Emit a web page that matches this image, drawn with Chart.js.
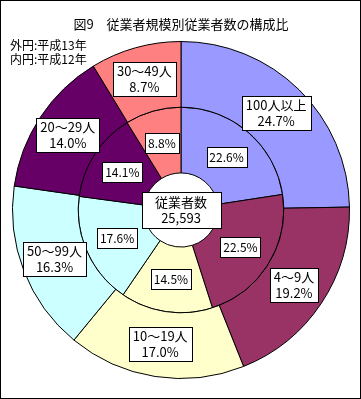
<!DOCTYPE html>
<html>
<head>
<meta charset="utf-8">
<script src="https://cdn.jsdelivr.net/npm/chart.js@4"></script>
<style>
  html, body { margin: 0; padding: 0; background: #fff; }
  canvas { display: block; }
</style>
</head>
<body>
<canvas id="sizeChart" width="361" height="399"></canvas>
<script>
// ========= DATA ========= //
const categories = ["100人以上", "4～9人", "10～19人", "50～99人", "20～29人", "30～49人"];
const outerValues = [24.7, 19.2, 17.0, 16.3, 14.0, 8.7]; // 外円: 平成13年
const innerValues = [22.6, 22.5, 14.5, 17.6, 14.1, 8.8]; // 内円: 平成12年
const sliceColors = ["#9999FF", "#993366", "#FFFFCC", "#CCFFFF", "#660066", "#FF8080"];
const titleText = "図9　従業者規模別従業者数の構成比";
const noteLines = ["外円:平成13年", "内円:平成12年"];
const centerLines = ["従業者数", "25,593"];

const jpFont = '"Noto Sans CJK JP", "Noto Sans", sans-serif';

// draws a white box with black frame and centred text lines
function drawBox(ctx, lines, x, y, opts) {
  ctx.font = opts.size + "px " + jpFont;
  let w = opts.width || Math.max(...lines.map(l => ctx.measureText(l).width)) + opts.padX * 2;
  let h = opts.height || lines.length * opts.lineH + opts.padY * 2;
  w = Math.round(w);
  h = Math.round(h);
  const left = Math.round(x - w / 2) + 0.5;
  const top = Math.round(y - h / 2) + 0.5;
  ctx.fillStyle = "#fff";
  ctx.fillRect(left, top, w, h);
  ctx.strokeStyle = "#000";
  ctx.lineWidth = 1;
  ctx.strokeRect(left, top, w, h);
  ctx.fillStyle = "#000";
  ctx.textAlign = "center";
  ctx.textBaseline = "middle";
  const startY = top + h / 2 - (lines.length * opts.lineH) / 2;
  lines.forEach((l, i) => ctx.fillText(l, x, startY + opts.lineH * (i + 0.5)));
}

// ========= LABEL PLUGIN ========= //
const labelPlugin = {
  id: "labelPlugin",
  afterDraw(chart) {
    const ctx = chart.ctx;
    ctx.save();

    // outer ring labels
    chart.getDatasetMeta(0).data.forEach((arc, i) => {
      const p = arc.getCenterPoint();
      drawBox(ctx, [categories[i], outerValues[i].toFixed(1) + "%"], p.x, p.y,
        { size: 13, lineH: 16, padX: 4, padY: 1 });
    });

    // inner ring labels
    chart.getDatasetMeta(1).data.forEach((arc, i) => {
      const p = arc.getCenterPoint();
      drawBox(ctx, [innerValues[i].toFixed(1) + "%"], p.x, p.y,
        { size: 12, lineH: 16, padX: 3, padY: 2 });
    });

    // centre label
    const cx = chart.getDatasetMeta(0).data[0].x;
    const cy = chart.getDatasetMeta(0).data[0].y;
    drawBox(ctx, centerLines, cx, cy, { size: 13, lineH: 16, width: 79, height: 36 });

    // title + notes
    ctx.fillStyle = "#000";
    ctx.textBaseline = "middle";
    ctx.textAlign = "center";
    ctx.font = "13px " + jpFont;
    ctx.fillText(titleText, 181, 24);
    ctx.textAlign = "left";
    ctx.font = "12px " + jpFont;
    ctx.fillText(noteLines[0], 10, 45);
    ctx.fillText(noteLines[1], 10, 59);

    // frame
    ctx.strokeStyle = "#000";
    ctx.lineWidth = 1;
    ctx.strokeRect(0.5, 0.5, 360, 398);
    ctx.restore();
  },
};

// ========= CHART ========= //
let sizeChart = new Chart(document.getElementById("sizeChart").getContext("2d"), {
  type: "doughnut",
  data: {
    labels: categories,
    datasets: [
      {
        data: outerValues,
        backgroundColor: sliceColors,
        borderColor: "#000",
        borderWidth: 1,
      },
      {
        data: innerValues,
        backgroundColor: sliceColors,
        borderColor: "#000",
        borderWidth: 1,
      },
    ],
  },
  options: {
    responsive: false,
    animation: false,
    cutout: "22%",
    layout: {
      padding: { left: 12, right: 11, top: 41, bottom: 20 },
    },
    plugins: {
      legend: { display: false },
      tooltip: { enabled: false },
    },
  },
  plugins: [labelPlugin],
});
</script>
</body>
</html>
